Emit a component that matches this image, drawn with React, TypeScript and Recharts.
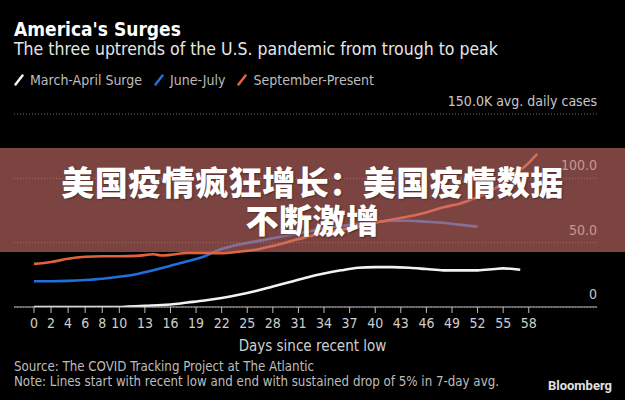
import { LineChart, Line, XAxis, YAxis, CartesianGrid } from "recharts";

const FONT = '"DejaVu Sans Condensed", "Liberation Sans Narrow", Roboto, sans-serif';

// days since recent low / thousands of cases (7-day avg)
const marchDays = [0, 2, 4, 6, 8, 10, 11, 13, 15, 16, 18, 20, 22, 24, 26, 28, 30, 32, 34, 36, 38, 40, 42, 44, 46, 48, 50, 52, 54, 55, 57];
const marchCases = [0, 0, 0, 0, 0, 0, 0.3, 1, 1.5, 2, 3.5, 5, 7, 9.5, 12.5, 16, 19.5, 23, 26, 28.5, 30.5, 31, 31, 30.5, 29.5, 28.5, 28.5, 28.5, 29.5, 30, 29];

const juneDays = [0, 2, 4, 6, 8, 10, 12, 14, 16, 18, 20, 22, 24, 26, 28, 30, 32, 34, 36, 38, 40, 42, 44, 46, 48, 50, 52];
const juneCases = [20, 20, 20.3, 21, 22, 23.5, 25.5, 28.5, 32, 35.5, 39.5, 45, 48.5, 51, 53.5, 56, 58.5, 61, 63, 64.5, 66, 67, 67, 66.3, 65.5, 63.8, 62.5];

const septDays = [0, 2, 4, 6, 8, 10, 12, 14, 15, 16, 18, 20, 22, 24, 26, 28, 30, 32, 34, 36, 38, 40, 42, 44, 46, 48, 50, 52, 54, 56, 58, 59];
const septCases = [33.5, 35, 37.5, 39, 39.5, 39.5, 39.7, 41, 40, 40.5, 42, 42, 41.8, 43, 44.5, 47.5, 51, 54.5, 57.5, 60, 62.5, 65.5, 68, 70.5, 73.5, 77.5, 80.5, 85.5, 92, 101, 112, 119];

const xTicks = [0, 2, 4, 6, 8, 10, 13, 16, 19, 22, 25, 28, 31, 34, 37, 40, 43, 46, 49, 52, 55, 58];
const yTicks = [0, 50, 100, 150];

const toPoints = (days: number[], vals: number[]) => days.map((d, i) => ({ day: d, v: vals[i] }));

const series = [
  { name: "March-April Surge", color: "#f2f2f2", data: toPoints(marchDays, marchCases) },
  { name: "June-July", color: "#1f6fdc", data: toPoints(juneDays, juneCases) },
  { name: "September-Present", color: "#e2623d", data: toPoints(septDays, septCases) },
];

function fmtY(v: number) {
  if (v === 0) return "0";
  if (v === 150) return "150.0K avg. daily cases";
  return v.toFixed(1);
}

function YTick(props: any) {
  const { x, y, payload } = props;
  return (
    <text x={x} y={y} dy={-8} textAnchor="end" fill="#c8c8c8" fontSize={14} fontFamily={FONT}>
      {fmtY(payload.value)}
    </text>
  );
}

function Slash({ color }: { color: string }) {
  return (
    <svg width={10} height={12} style={{ marginRight: 6 }}>
      <line x1={1.5} y1={10.5} x2={8.5} y2={1.5} stroke={color} strokeWidth={2.5} strokeLinecap="round" />
    </svg>
  );
}

export default function App() {
  return (
    <div style={{ position: "absolute", left: 0, top: 0, width: 625, height: 400, background: "#000", overflow: "hidden", fontFamily: FONT, color: "#ddd" }}>
      <div style={{ position: "absolute", left: 14, top: 18, fontSize: 19, fontWeight: "bold", color: "#fff" }}>
        America's Surges
      </div>
      <div style={{ position: "absolute", left: 14, top: 39, fontSize: 17.5, color: "#e6e6e6" }}>
        The three uptrends of the U.S. pandemic from trough to peak
      </div>
      <div style={{ position: "absolute", left: 14, top: 72, fontSize: 14, color: "#bdbdbd", display: "flex", alignItems: "center" }}>
        {series.map((s) => (
          <span key={s.name} style={{ display: "flex", alignItems: "center", marginRight: 12 }}>
            <Slash color={s.color} />
            {s.name}
          </span>
        ))}
      </div>

      <div style={{ position: "absolute", left: 0, top: 0 }}>
        <LineChart width={625} height={400} margin={{ top: 114, right: 28, bottom: 63, left: 14 }}>
          <CartesianGrid horizontal vertical={false} stroke="#6a6a6a" strokeDasharray="1 2" />
          <XAxis
            dataKey="day"
            type="number"
            domain={[0, 66]}
            ticks={xTicks}
            padding={{ left: 20, right: 0 }}
            height={30}
            allowDataOverflow
            stroke="#bdbdbd"
            tickSize={6}
            tickMargin={5}
            tick={{ fill: "#cfcfcf", fontSize: 14, fontFamily: FONT }}
            interval={0}
          />
          <YAxis
            orientation="right"
            mirror
            domain={[0, 150]}
            ticks={yTicks}
            width={60}
            axisLine={false}
            tickLine={false}
            tickSize={0}
            tickMargin={0}
            tick={<YTick />}
            interval={0}
            allowDataOverflow
          />
          {series.map((s) => (
            <Line
              key={s.name}
              data={s.data}
              dataKey="v"
              type="monotone"
              stroke={s.color}
              strokeWidth={2.6}
              dot={false}
              isAnimationActive={false}
            />
          ))}
        </LineChart>
      </div>

      <div style={{ position: "absolute", left: 0, width: 625, top: 337, textAlign: "center", fontSize: 15, color: "#cfcfcf" }}>
        Days since recent low
      </div>
      <div style={{ position: "absolute", left: 14, top: 359, fontSize: 13.2, color: "#bdbdbd", lineHeight: "15px" }}>
        Source: The COVID Tracking Project at The Atlantic
        <br />
        Note: Lines start with recent low and end with sustained drop of 5% in 7-day avg.
      </div>
      <div style={{ position: "absolute", right: 13, top: 378, fontSize: 13, fontWeight: "bold", color: "#e0e0e0", fontFamily: "Roboto, sans-serif" }}>
        Bloomberg
      </div>

      <div
        style={{
          position: "absolute", left: 0, top: 148, width: 625, height: 104,
          background: "rgba(205,113,107,0.6)", textAlign: "center", color: "#fff",
          fontFamily: '"Noto Sans CJK SC", sans-serif', fontWeight: 900, fontSize: 33, lineHeight: "38px",
          letterSpacing: 0.5, paddingTop: 14, boxSizing: "border-box", textShadow: "1px 1px 2px rgba(0,0,0,0.35)",
        }}
      >
        美国疫情疯狂增长：美国疫情数据
        <br />
        不断激增
      </div>
    </div>
  );
}
